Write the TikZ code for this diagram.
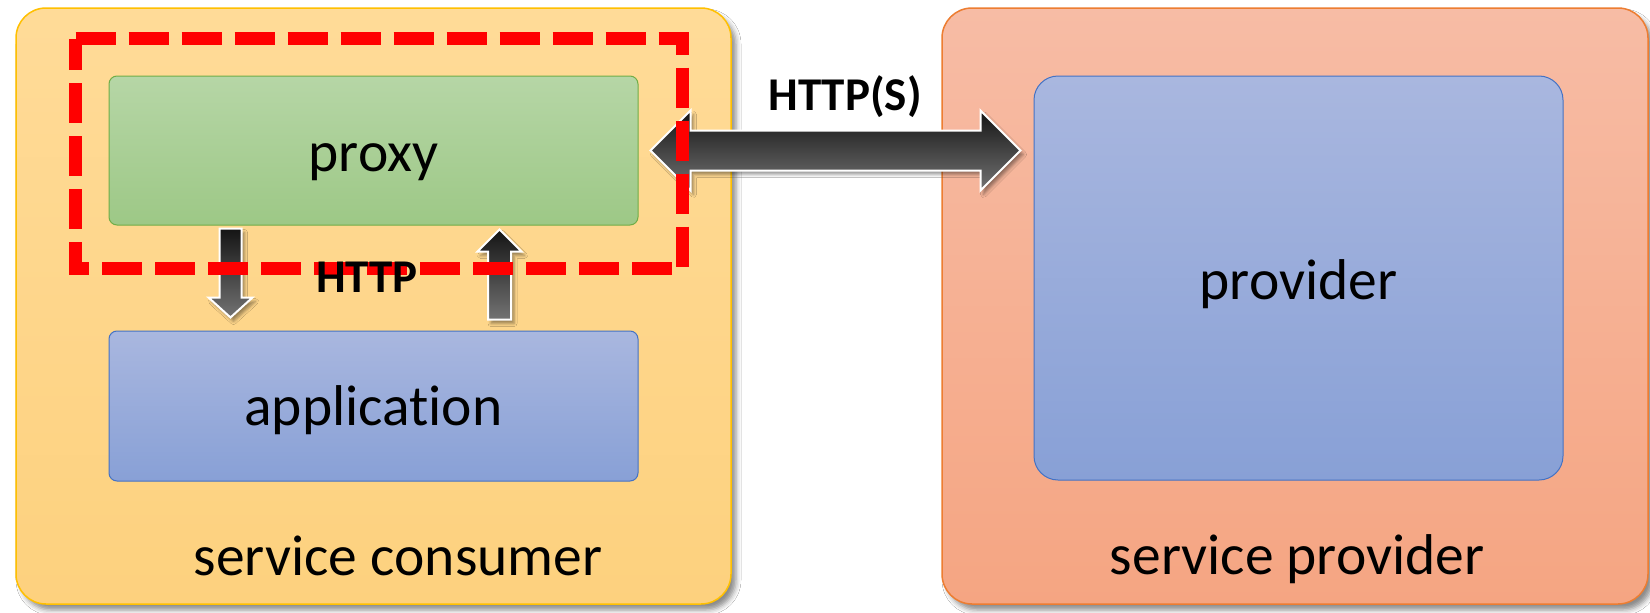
\documentclass[tikz,border=0pt]{standalone}
\usepackage{fontspec}
\setmainfont{Carlito}[Ligatures=NoCommon]
\usetikzlibrary{calc,shadows.blur}
\definecolor{consTop}{HTML}{FFDB98}
\definecolor{consBot}{HTML}{FDD17E}
\definecolor{consLine}{HTML}{FFC000}
\definecolor{provTop}{HTML}{F7BCA5}
\definecolor{provBot}{HTML}{F5A582}
\definecolor{provLine}{HTML}{ED7D31}
\definecolor{greenTop}{HTML}{B6D6A6}
\definecolor{greenBot}{HTML}{9DC886}
\definecolor{greenLine}{HTML}{70AD47}
\definecolor{blueTop}{HTML}{A9B7DF}
\definecolor{blueBot}{HTML}{88A0D6}
\definecolor{blueLine}{HTML}{4472C4}
\begin{document}
\begin{tikzpicture}[x=1pt,y=-1pt,
  panel/.style={draw, line width=1.5pt, rounded corners=30pt, inner sep=0pt,
    blur shadow={shadow xshift=5pt, shadow yshift=-6pt, shadow blur radius=5pt, shadow opacity=45}},
  innerbox/.style={draw, line width=1pt, inner sep=0pt, minimum width=529pt},
  blockarrow/.style={draw=white, line width=2pt, line join=miter,
    top color=black!92, bottom color=black!55,
    blur shadow={shadow xshift=3pt, shadow yshift=-4pt, shadow blur radius=3pt, shadow opacity=40}},
  hilite/.style={draw=red, line width=13pt, dash pattern=on 40pt off 13pt},
  lbl/.style={inner sep=0pt, font=\fontsize{57.5}{62}\selectfont, anchor=base},
  blbl/.style={inner sep=0pt, font=\fontsize{47}{52}\selectfont\bfseries, anchor=base}]
\useasboundingbox[fill=white] (0,0) rectangle (1650,613);
% outer panels
\node[panel, draw=consLine, top color=consTop, bottom color=consBot,
  minimum width=715pt, minimum height=596pt] (consumer) at (373.5,306) {};
\node[panel, draw=provLine, top color=provTop, bottom color=provBot,
  minimum width=706pt, minimum height=596pt] (provout) at (1295,306) {};
% inner boxes
\node[innerbox, rounded corners=8pt, draw=greenLine, top color=greenTop, bottom color=greenBot,
  minimum height=149pt] (proxy) at (373.5,150.5) {};
\node[innerbox, rounded corners=8pt, draw=blueLine, top color=blueTop, bottom color=blueBot,
  minimum height=150pt] (app) at (373.5,406) {};
\node[innerbox, rounded corners=24pt, draw=blueLine, top color=blueTop, bottom color=blueBot,
  minimum height=404pt] (provin) at (1298.5,278) {};
% double arrow proxy <-> provider
\coordinate (hl) at ($(proxy.east)+(12,0)$);
\coordinate (hr) at ($(provin.west |- proxy.east)+(-13,0)$);
\draw[blockarrow] (hl) -- ++(40,-40) -- ++(0,20) -- ($(hr)+(-40,-20)$) -- ++(0,-20)
  -- (hr) -- ++(-40,40) -- ++(0,-20) -- ($(hl)+(40,20)$) -- ++(0,20) -- cycle;
% down arrow proxy -> application
\coordinate (d1) at ($(proxy.south west)+(122,3)$);
\coordinate (d2) at ($(app.north west)+(122,-13)$);
\draw[blockarrow] ($(d1)+(-11,0)$) -- ($(d1)+(11,0)$) -- ($(d2)+(11,-20)$) -- ($(d2)+(22,-20)$)
  -- (d2) -- ($(d2)+(-22,-20)$) -- ($(d2)+(-11,-20)$) -- cycle;
% up arrow application -> proxy
\coordinate (u1) at ($(app.north west)+(391,-11)$);
\coordinate (u2) at ($(proxy.south west)+(391,4)$);
\draw[blockarrow] ($(u1)+(-11.5,0)$) -- ($(u1)+(11.5,0)$) -- ($(u2)+(11.5,22)$) -- ($(u2)+(22,22)$)
  -- (u2) -- ($(u2)+(-22,22)$) -- ($(u2)+(-11.5,22)$) -- cycle;
% dashed highlight
\draw[hilite] ($(proxy.north west)+(-33,-37)$) -- ($(proxy.north east)+(44,-37)$)
  -- ($(proxy.south east)+(44,43)$) -- ($(proxy.south west)+(-33,43)$) -- cycle;
% texts
\node[lbl] (tproxy) at (373.5,171) {proxy};
\node[lbl] (tapp) at (373.5,425) {application};
\node[lbl] (tprov) at (1298.5,299) {provider};
\node[lbl] (tcons) at (398,575) {service consumer};
\node[lbl] (tsp) at (1297,574) {service provider};
\node[blbl] (https) at (845,110) {HTTP(S)};
\node[blbl] (http) at (367,292) {HTTP};
\end{tikzpicture}
\end{document}
